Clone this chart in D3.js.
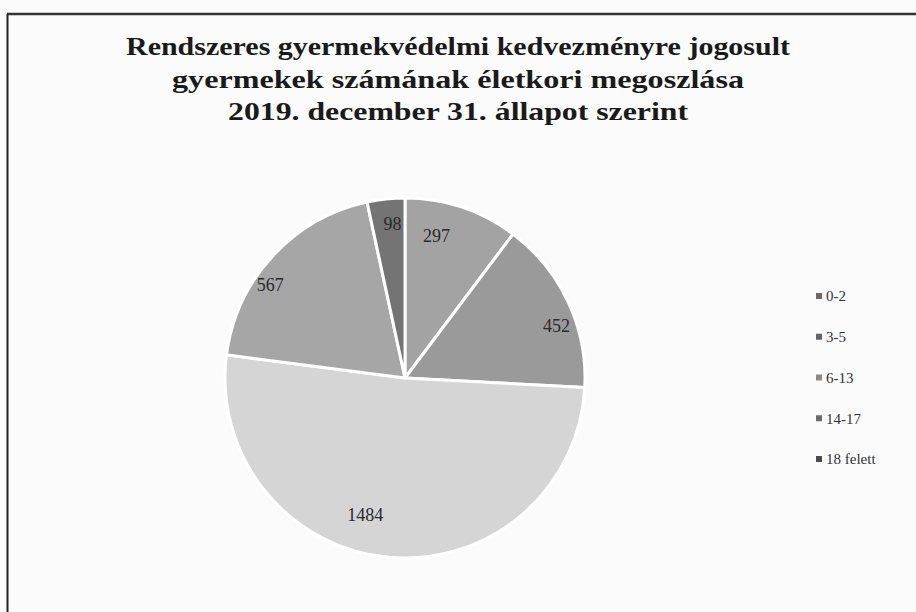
<!DOCTYPE html>
<html>
<head>
<meta charset="utf-8">
<script src="https://cdn.jsdelivr.net/npm/d3@7"></script>
<style>
  html, body { margin: 0; padding: 0; background: #fbfbfb; }
  svg { display: block; }
</style>
</head>
<body>
<svg id="chart" width="916" height="612"></svg>
<script>
const titleLines = [
  "Rendszeres gyermekvédelmi kedvezményre jogosult",
  "gyermekek számának életkori megoszlása",
  "2019. december 31. állapot szerint"
];
const categories = ["0-2", "3-5", "6-13", "14-17", "18 felett"];
const values = [297, 452, 1484, 567, 98];
const colors = ["#a3a3a3", "#9a9a9a", "#d5d5d5", "#a6a6a6", "#747474"];

// label placement tweaks (angle shift in degrees, radius as share of pie radius)
const labelShift = [-6, 6, 11, -8, 1.5];
const labelRadius = [0.81, 0.89, 0.79, 0.91, 0.86];

const svg = d3.select("#chart");
const W = 916, H = 612;

svg.append("rect").attr("x", 0).attr("y", 0).attr("width", W).attr("height", H).attr("fill", "#fbfbfb");

// frame
svg.append("line").attr("x1", 7).attr("y1", 14).attr("x2", W).attr("y2", 14)
  .attr("stroke", "#333").attr("stroke-width", 2.5);
svg.append("line").attr("x1", 7.5).attr("y1", 14).attr("x2", 7.5).attr("y2", H)
  .attr("stroke", "#222").attr("stroke-width", 2);

// title
const titleY = [55, 88, 120];
const titleW = [664, 572, 460];
svg.append("g").selectAll("text").data(titleLines).join("text")
  .attr("x", 458).attr("y", (d, i) => titleY[i])
  .attr("text-anchor", "middle")
  .attr("font-family", "'Liberation Serif', 'DejaVu Serif', serif")
  .attr("font-weight", "bold").attr("font-size", 25)
  .attr("fill", "#1a1a1a")
  .attr("textLength", (d, i) => titleW[i])
  .attr("lengthAdjust", "spacingAndGlyphs")
  .text(d => d);

// pie
const cx = 405, cy = 378, R = 180;
const data = categories.map((c, i) => ({ cat: c, value: values[i], i }));
const pie = d3.pie().value(d => d.value).sort(null);
const arc = d3.arc().innerRadius(0).outerRadius(R);
const color = d3.scaleOrdinal().domain(categories).range(colors);
const arcs = pie(data);

const g = svg.append("g").attr("transform", `translate(${cx},${cy})`);
g.selectAll("path").data(arcs).join("path")
  .attr("d", arc)
  .attr("fill", d => color(d.data.cat))
  .attr("stroke", "#ffffff").attr("stroke-width", 3).attr("stroke-linejoin", "round");

// labels
g.selectAll("text.lbl").data(arcs).join("text")
  .attr("class", "lbl")
  .attr("transform", d => {
    const a = (d.startAngle + d.endAngle) / 2 + labelShift[d.data.i] * Math.PI / 180;
    const r = R * labelRadius[d.data.i];
    return `translate(${r * Math.sin(a)},${-r * Math.cos(a)})`;
  })
  .attr("text-anchor", "middle").attr("dy", "0.35em")
  .attr("font-family", "'Liberation Serif', 'DejaVu Serif', serif")
  .attr("font-size", 18).attr("fill", "#2a2a2a")
  .text(d => d.data.value);

// legend
const legendY = d3.scalePoint().domain(categories).range([296, 459]);
const leg = svg.append("g");
const items = leg.selectAll("g").data(categories).join("g")
  .attr("transform", d => `translate(816,${legendY(d)})`);
items.append("rect").attr("x", 0).attr("y", -3).attr("width", 6).attr("height", 6)
  .attr("fill", d => d3.color(color(d)).darker(1.2));
items.append("text").attr("x", 10).attr("dy", "0.35em")
  .attr("font-family", "'Liberation Serif', 'DejaVu Serif', serif")
  .attr("font-size", 15).attr("fill", "#333")
  .text(d => d);
</script>
</body>
</html>
